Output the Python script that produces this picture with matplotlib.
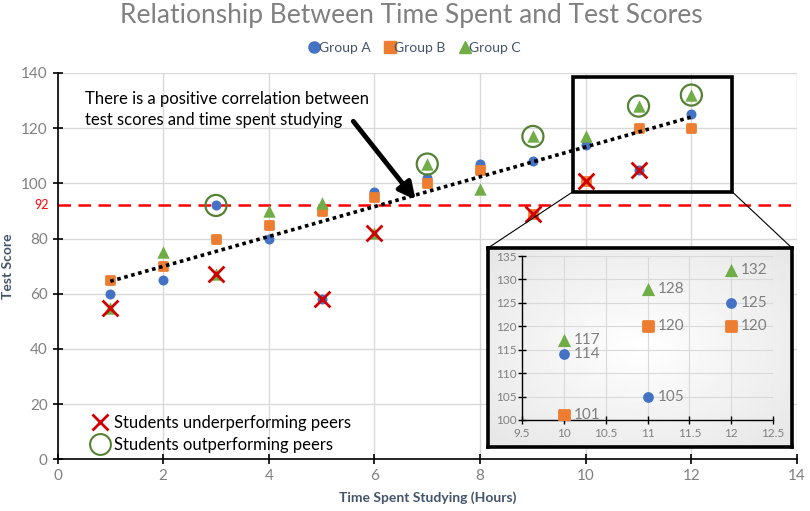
import numpy as np
import matplotlib
matplotlib.use("Agg")
import matplotlib.pyplot as plt
from matplotlib.lines import Line2D
from matplotlib.markers import MarkerStyle
from matplotlib.patches import Rectangle, ConnectionPatch

plt.rcParams['font.family'] = ['Lato', 'DejaVu Sans']

# data
hours = [1, 2, 3, 4, 5, 6, 7, 8, 9, 10, 11, 12]
group_a = [60, 65, 92, 80, 58, 97, 102, 107, 108, 114, 105, 125]
group_b = [65, 70, 80, 85, 90, 95, 100, 105, 89, 101, 120, 120]
group_c = [55, 75, 67, 90, 93, 82, 107, 98, 117, 117, 128, 132]

under_x = [1, 3, 5, 6, 9, 10, 11]
under_y = [55, 67, 58, 82, 89, 101, 105]
over_x = [3, 7, 9, 11, 12]
over_y = [92, 107, 117, 128, 132]

threshold = 92
zoom_hours = [10, 11, 12]

BLUE = '#4472C4'
ORANGE = '#ED7D31'
GREEN = '#70AD47'
RED = '#D00000'
RING = '#548235'
GRID = '#D9D9D9'
TICK = '#808080'
LABEL = '#44546A'

sq = MarkerStyle('s', joinstyle='round')


def draw_groups(a, x_vals, ya, yb, yc, s_circ=52, s_sq=40, s_tri=80):
    a.scatter(x_vals, ya, s=s_circ, color=BLUE, zorder=3, linewidths=0)
    a.scatter(x_vals, yb, s=s_sq, marker=sq, color=ORANGE, edgecolors=ORANGE,
              linewidths=2, zorder=4)
    a.scatter(x_vals, yc, s=s_tri, marker='^', color=GREEN, zorder=5, linewidths=0)


fig = plt.figure(figsize=(8.1, 5.11), dpi=100)
ax = fig.add_axes([57.5 / 810, 1 - 459.3 / 511, (797 - 57.5) / 810, (459.3 - 73) / 511])

draw_groups(ax, hours, group_a, group_b, group_c)

# markers for under / over performers
ax.scatter(under_x, under_y, s=130, marker='x', color=RED, linewidths=2, zorder=6)
ax.scatter(over_x, over_y, s=230, marker='o', facecolors='none', edgecolors=RING,
           linewidths=1.6, zorder=6)

# trend line over all points
all_x = np.array(hours * 3)
all_y = np.array(group_a + group_b + group_c)
slope, icpt = np.polyfit(all_x, all_y, 1)
tx = np.array([hours[0], hours[-1]])
ax.plot(tx, slope * tx + icpt, color='black', linestyle=(0, (1, 1)), lw=2.6, zorder=7)

# threshold line
ax.axhline(threshold, color='#FF0000', linestyle=(0, (5, 3)), lw=1.8, zorder=2)
ax.text(-0.012, threshold, str(threshold), color='#FF0000', fontsize=9,
        ha='right', va='center', transform=ax.get_yaxis_transform())

ax.set_xlim(0, 14)
ax.set_ylim(0, 140)
ax.set_xticks(range(0, 15, 2))
ax.set_yticks(range(0, 141, 20))
ax.grid(True, color=GRID, lw=1)
ax.set_axisbelow(True)
for side in ['top', 'right']:
    ax.spines[side].set_visible(False)
for side in ['left', 'bottom']:
    ax.spines[side].set_color('black')
    ax.spines[side].set_linewidth(1.2)
ax.tick_params(direction='inout', length=7, width=1.2, colors='black',
               labelcolor=TICK, labelsize=11)
ax.set_xlabel('Time Spent Studying (Hours)', fontsize=10, fontweight='bold',
              color=LABEL, labelpad=6)
ax.set_ylabel('Test Score', fontsize=10, fontweight='bold', color=LABEL, labelpad=5)

# annotation
ax.text(0.53, 133.5, 'There is a positive correlation between\ntest scores and time spent studying',
        fontsize=12, color='black', va='top', ha='left', linespacing=1.4)
ax.annotate('', xy=(6.78, 94), xytext=(5.6, 122.5),
            arrowprops=dict(arrowstyle='-|>,head_length=1.0,head_width=0.5',
                            color='black', lw=3.5, shrinkA=0, shrinkB=0))

# highlight rectangle
r_x0, r_x1, r_y0, r_y1 = 9.76, 12.77, 97, 138.7
ax.add_patch(Rectangle((r_x0, r_y0), r_x1 - r_x0, r_y1 - r_y0, fill=False,
                       edgecolor='black', lw=2.6, zorder=8, clip_on=False))

# bottom-left legend
marks = [Line2D([], [], marker='x', color=RED, ls='', ms=12, mew=2),
         Line2D([], [], marker='o', color=RING, mfc='none', ls='', ms=15, mew=1.5)]
leg = ax.legend(marks, ['Students underperforming peers', 'Students outperforming peers'],
                loc='lower left', bbox_to_anchor=(0.02, -0.022), frameon=False,
                fontsize=12, handletextpad=0.1, labelspacing=0.35, handlelength=1.5)

# top legend
top = [Line2D([], [], marker='o', color=BLUE, ls='', ms=8),
       Line2D([], [], marker='s', color=ORANGE, ls='', ms=8),
       Line2D([], [], marker='^', color=GREEN, ls='', ms=9)]
fig.legend(top, ['Group A', 'Group B', 'Group C'], loc='center', ncol=3,
           bbox_to_anchor=(414 / 810, 1 - 48 / 511), frameon=False, fontsize=10,
           handletextpad=-0.2, columnspacing=0.9, handlelength=1.0, labelcolor=LABEL)

fig.suptitle('Relationship Between Time Spent and Test Scores', x=0.508, y=0.995,
             fontsize=19, color='#808080', va='top')

# inset box with soft gradient
box = fig.add_axes([488 / 810, 1 - 447 / 511, (792 - 488) / 810, (447 - 248) / 511])
gx, gy = np.meshgrid(np.linspace(-1, 1, 200), np.linspace(-1, 1, 130))
shade = np.clip(np.sqrt(gx ** 2 + gy ** 2), 0, 1.3)
box.imshow(1 - 0.07 * shade, cmap='gray', vmin=0, vmax=1, aspect='auto',
           extent=(0, 1, 0, 1))
box.set_xticks([])
box.set_yticks([])
for sp in box.spines.values():
    sp.set_linewidth(2.6)
    sp.set_color('black')

for xa, xb in [((r_x0, r_y0), (0, 1)), ((r_x1, r_y0), (1, 1))]:
    con = ConnectionPatch(xyA=xa, coordsA=ax.transData, xyB=xb, coordsB=box.transAxes,
                          color='black', lw=0.8)
    fig.add_artist(con)

ins = fig.add_axes([522 / 810, 1 - 420 / 511, (773 - 522) / 810, (420 - 256) / 511])
ins.set_facecolor('none')
za = group_a[-3:]
zb = group_b[-3:]
zc = group_c[-3:]
draw_groups(ins, zoom_hours, za, zb, zc, s_circ=60, s_sq=45, s_tri=90)
for vals in (za, zb, zc):
    for xv, yv in zip(zoom_hours, vals):
        ins.text(xv + 0.12, yv, str(yv), fontsize=11, color='#7F7F7F',
                 va='center', ha='left')
ins.set_xlim(9.5, 12.5)
ins.set_ylim(100, 135)
ins.set_xticks(np.arange(9.5, 12.51, 0.5))
ins.set_xticklabels(['9.5', '10', '10.5', '11', '11.5', '12', '12.5'])
ins.set_yticks(range(100, 136, 5))
ins.grid(True, color=GRID, lw=0.8)
ins.set_axisbelow(True)
for side in ['top', 'right']:
    ins.spines[side].set_visible(False)
for side in ['left', 'bottom']:
    ins.spines[side].set_color('black')
    ins.spines[side].set_linewidth(1)
ins.tick_params(direction='inout', length=6, width=1, colors='black',
                labelcolor=TICK, labelsize=8.5, pad=3)
ins.tick_params(axis='y', pad=1)

fig.savefig('out.png', dpi=100)
